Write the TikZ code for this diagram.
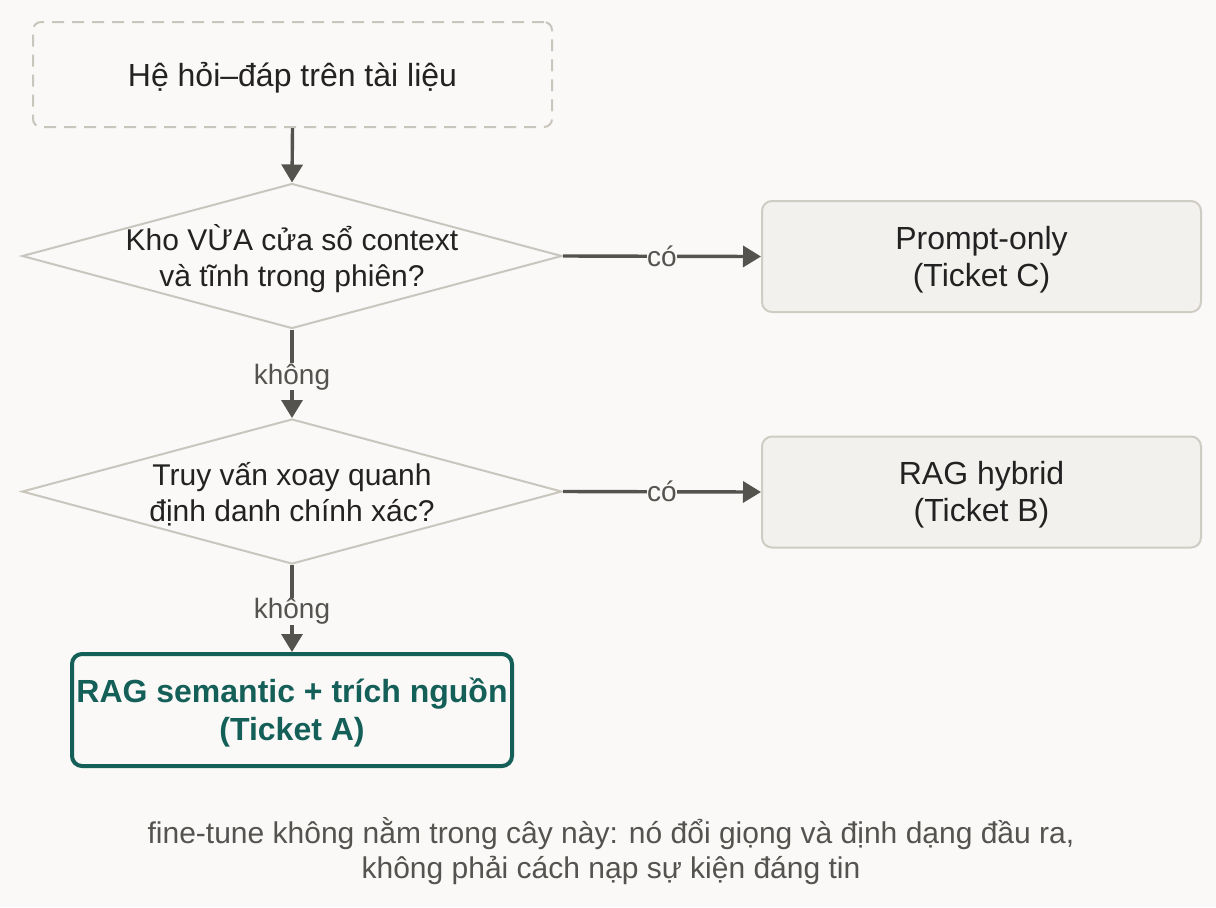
\documentclass[tikz,border=0pt]{standalone}
\usepackage{fontspec}
\setmainfont{Liberation Sans}
\usetikzlibrary{shapes.geometric,arrows.meta}
\definecolor{bgc}{HTML}{FAF9F7}
\definecolor{boxfill}{HTML}{F2F1ED}
\definecolor{boxline}{HTML}{CFCCC4}
\definecolor{diaLine}{HTML}{C9C6BD}
\definecolor{arrowc}{HTML}{55534E}
\definecolor{tealc}{HTML}{155F59}
\definecolor{textc}{HTML}{222222}
\definecolor{labelc}{HTML}{555350}
\tikzset{
  maintext/.style={font=\fontsize{16}{18.5}\selectfont, text=textc, align=center, yshift=-1.5pt},
  diatext/.style={font=\fontsize{15}{18}\selectfont, text=textc, align=center, yshift=-1.5pt},
  startbox/.style={draw=diaLine, line width=1pt, dash pattern=on 6pt off 4pt, rounded corners=4pt, fill=bgc, minimum width=259.5pt, minimum height=52.5pt, inner sep=0pt},
  decision/.style={diamond, draw=diaLine, line width=1pt, fill=bgc, minimum width=270pt, minimum height=72.5pt, inner sep=0pt},
  outbox/.style={draw=boxline, line width=1pt, rounded corners=5pt, fill=boxfill, minimum width=219.5pt, minimum height=55.5pt, inner sep=0pt},
  finalbox/.style={draw=tealc, line width=2pt, rounded corners=5pt, fill=bgc, minimum width=220pt, minimum height=56pt, inner sep=0pt},
  flow/.style={draw=arrowc, line width=1.7pt, -{Triangle[length=9pt,width=10.5pt]}},
  edgelabel/.style={font=\fontsize{14}{16}\selectfont, text=labelc, fill=bgc, inner sep=0.3pt},
}
\begin{document}
\begin{tikzpicture}[x=0.5pt,y=-0.5pt]
\fill[bgc] (0,0) rectangle (1216,907);
\useasboundingbox (0,0) rectangle (1216,907);

\node[startbox] (start) at (292.5,74.5) {};
\node[maintext] (startt) at (start.center) {Hệ hỏi–đáp trên tài liệu};

\node[decision] (d1) at (292,256) {};
\node[diatext] (d1t) at (d1.center) {Kho VỪA cửa sổ context\\và tĩnh trong phiên?};

\node[outbox] (c) at (981.5,256.5) {};
\node[maintext] (ct) at (c.center) {Prompt-only\\(Ticket C)};

\node[decision] (d2) at (292,491.5) {};
\node[diatext] (d2t) at (d2.center) {Truy vấn xoay quanh\\định danh chính xác?};

\node[outbox] (b) at (981.5,492) {};
\node[maintext] (bt) at (b.center) {RAG hybrid\\(Ticket B)};

\node[finalbox] (a) at (292,710) {};
\node[maintext, font=\fontsize{16}{19}\selectfont\bfseries, text=tealc] (at) at (a.center) {RAG semantic + trích nguồn\\(Ticket A)};

\node[font=\fontsize{15}{17.5}\selectfont, text=labelc, align=center] (note) at (611,851) {fine-tune không nằm trong cây này: nó đổi giọng và định dạng đầu ra,\\không phải cách nạp sự kiện đáng tin};

\draw[flow] (start.south) -- (d1.north);
\draw[flow] (d1.east) -- node[edgelabel] {có} (c.west);
\draw[flow] (d1.south) -- node[edgelabel, yshift=-1.5pt] {không} (d2.north);
\draw[flow] (d2.east) -- node[edgelabel] {có} (b.west);
\draw[flow] (d2.south) -- node[edgelabel, yshift=-1.5pt] {không} (a.north);
\end{tikzpicture}
\end{document}
